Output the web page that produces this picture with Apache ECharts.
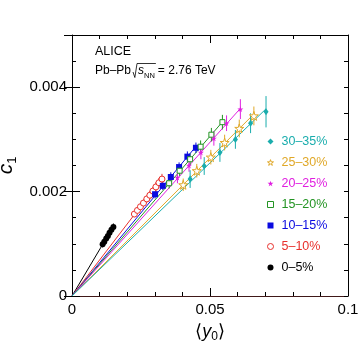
<!DOCTYPE html>
<html>
<head>
<meta charset="utf-8">
<script src="https://cdn.jsdelivr.net/npm/echarts@6/dist/echarts.min.js"></script>
<style>
html, body { margin: 0; padding: 0; background: #fff; }
#chart { width: 359px; height: 349px; }
</style>
</head>
<body>
<div id="chart"></div>
<script>
// centrality classes, listed 0-5% first
const centralities = ['0–5%', '5–10%', '10–15%', '15–20%', '20–25%', '25–30%', '30–35%'];

// <y0> values per class
const y0_0_5 = [0.0111, 0.0117, 0.0124, 0.0130, 0.0136, 0.0143, 0.0150];
const y0_5_10 = [0.0226, 0.0237, 0.0248, 0.0259, 0.0271, 0.0282, 0.0293, 0.0304, 0.0315, 0.0326];
const y0_10_15 = [0.0301, 0.0329, 0.0358, 0.0388, 0.0418, 0.0449];
const y0_15_20 = [0.0352, 0.0390, 0.0428, 0.0466, 0.0505, 0.0545];
const y0_20_25 = [0.0382, 0.0424, 0.0467, 0.0514, 0.0560, 0.0610];
const y0_25_30 = [0.0403, 0.0452, 0.0503, 0.0553, 0.0606, 0.0659];
const y0_30_35 = [0.0428, 0.0479, 0.0536, 0.0592, 0.0647, 0.0703];

// c1 values per class
const c1_0_5 = [0.00099, 0.00104, 0.00110, 0.00115, 0.00121, 0.00127, 0.00132];
const c1_5_10 = [0.00157, 0.00164, 0.00171, 0.00178, 0.00186, 0.00193, 0.00201, 0.00209, 0.00217, 0.00224];
const c1_10_15 = [0.00195, 0.00211, 0.00228, 0.00247, 0.00267, 0.00284];
const c1_15_20 = [0.00216, 0.00240, 0.00262, 0.00286, 0.00309, 0.00333];
const c1_20_25 = [0.00227, 0.00250, 0.00275, 0.00302, 0.00331, 0.00358];
const c1_25_30 = [0.00213, 0.00240, 0.00266, 0.00294, 0.00321, 0.00345];
const c1_30_35 = [0.00224, 0.00249, 0.00275, 0.00300, 0.00331, 0.00353];

// c1 errors per class
const err_0_5 = [0.00006, 0.00006, 0.00006, 0.00006, 0.00006, 0.00007, 0.00007];
const err_5_10 = [0.00006, 0.00006, 0.00007, 0.00007, 0.00007, 0.00008, 0.00008, 0.00009, 0.00009, 0.0001];
const err_10_15 = [0.00008, 0.00008, 0.00009, 0.00009, 0.0001, 0.0001];
const err_15_20 = [0.0001, 0.0001, 0.00011, 0.00012, 0.00013, 0.00014];
const err_20_25 = [0.00011, 0.00012, 0.00013, 0.00014, 0.00015, 0.00019];
const err_25_30 = [0.00012, 0.00013, 0.00014, 0.00015, 0.00017, 0.00018];
const err_30_35 = [0.00017, 0.00017, 0.00018, 0.00018, 0.00019, 0.0003];

// slopes of the linear fits through the origin
const fitSlopes = [0.0890, 0.0690, 0.0638, 0.0612, 0.0589, 0.0529, 0.0510];

const xTickValues = [0, 0.05, 0.1];
const xTickLabels = ['0', '0.05', '0.1'];
const yTickValues = [0, 0.002, 0.004];
const yTickLabels = ['0', '0.002', '0.004'];

const xs = [y0_0_5, y0_5_10, y0_10_15, y0_15_20, y0_20_25, y0_25_30, y0_30_35];
const ys = [c1_0_5, c1_5_10, c1_10_15, c1_15_20, c1_20_25, c1_25_30, c1_30_35];
const errs = [err_0_5, err_5_10, err_10_15, err_15_20, err_20_25, err_25_30, err_30_35];

const colors = ['#000000', '#e8302c', '#0a0ae0', '#239423', '#e020e0', '#e0a828', '#1aadad'];
const STAR = 'path://M50,0 L61,35 L98,35 L68,57 L79,91 L50,70 L21,91 L32,57 L2,35 L39,35 Z';
const markers = [
  { symbol: 'circle', size: 6, fill: true },
  { symbol: 'circle', size: 6, fill: false },
  { symbol: 'rect', size: 6, fill: true },
  { symbol: 'rect', size: 5, fill: false },
  { symbol: STAR, size: 6, fill: true },
  { symbol: STAR, size: 9, fill: false },
  { symbol: 'diamond', size: [5, 7], fill: true },
];

const pickLabel = (v, vals, labels) => {
  for (let i = 0; i < vals.length; i++) {
    if (Math.abs(v - vals[i]) < 1e-9) return labels[i];
  }
  return '';
};

const series = [];
centralities.forEach((name, i) => {
  const xmax = Math.max(...xs[i]);
  series.push({
    name: 'fit' + i,
    type: 'line',
    data: [[0, 0], [xmax, fitSlopes[i] * xmax]],
    symbol: 'none',
    silent: true,
    lineStyle: { color: colors[i], width: 1 },
    z: 2
  });
  series.push({
    name: 'err' + i,
    type: 'custom',
    silent: true,
    data: xs[i].map((x, k) => [x, ys[i][k] - errs[i][k], ys[i][k] + errs[i][k]]),
    renderItem: (params, api) => {
      const p1 = api.coord([api.value(0), api.value(1)]);
      const p2 = api.coord([api.value(0), api.value(2)]);
      return {
        type: 'line',
        shape: { x1: p1[0], y1: p1[1], x2: p2[0], y2: p2[1] },
        style: { stroke: colors[i], lineWidth: 1 }
      };
    },
    z: 3
  });
  const m = markers[i];
  series.push({
    name: name,
    type: 'scatter',
    data: xs[i].map((x, k) => [x, ys[i][k]]),
    symbol: m.symbol,
    symbolSize: m.size,
    itemStyle: m.fill
      ? { color: colors[i], opacity: 1 }
      : { color: '#fff', borderColor: colors[i], borderWidth: 1, opacity: 1 },
    z: 4
  });
});

// place the pieces of the energy label one after another
const measure = document.createElement('canvas').getContext('2d');
const textW = (txt, font) => { measure.font = font; return measure.measureText(txt).width; };
const labelFont = '12px "Liberation Sans"';
const rootX = 95 + textW('Pb–Pb', labelFont) + 2;
const sX = rootX + 5;
const nnX = sX + textW('s', 'italic ' + labelFont);
const nnW = textW('NN', '7.5px "Liberation Sans"');
const eqX = nnX + nnW + 3;

const tickStyle = { color: '#000', width: 1 };
const axisFont = { fontFamily: 'Liberation Sans', fontSize: 15, color: '#000' };

const chart = echarts.init(document.getElementById('chart'), null, { renderer: 'canvas' });
chart.setOption({
  animation: false,
  backgroundColor: '#fff',
  grid: { left: 72, right: 11, top: 35, bottom: 53, containLabel: false, outerBoundsMode: 'none' },
  legend: {
    orient: 'vertical',
    left: 262,
    top: 130,
    itemWidth: 6,
    itemHeight: 6,
    itemGap: 8,
    textStyle: { fontFamily: 'Liberation Sans', fontSize: 12.5, padding: [0, 0, 0, 3] },
    data: centralities.slice().reverse().map((name) => {
      const i = centralities.indexOf(name);
      return {
        name: name,
        itemStyle: markers[i].fill
          ? { color: colors[i], borderWidth: 0 }
          : { color: '#fff', borderColor: colors[i], borderWidth: 1 },
        textStyle: { color: colors[i] }
      };
    })
  },
  xAxis: [
    {
      type: 'value', min: 0, max: 0.1, interval: 0.05, position: 'bottom',
      axisLine: { show: true, onZero: false, lineStyle: { color: '#401818', width: 1 } },
      axisTick: { inside: true, length: 8, lineStyle: tickStyle },
      minorTick: { show: true, splitNumber: 5, length: 4, lineStyle: tickStyle },
      axisLabel: { ...axisFont, margin: 6, formatter: (v) => pickLabel(v, xTickValues, xTickLabels) },
      splitLine: { show: false },
      name: '{a|⟨}{y|y}{s|0}{a|⟩}',
      nameLocation: 'middle',
      nameGap: 25,
      nameTextStyle: {
        rich: {
          a: { fontFamily: 'Liberation Sans', fontSize: 18, color: '#000' },
          y: { fontFamily: 'Liberation Sans', fontStyle: 'italic', fontSize: 18, color: '#000' },
          s: { fontFamily: 'Liberation Sans', fontSize: 12, color: '#000', padding: [10, 0, 0, 0] }
        }
      }
    },
    {
      type: 'value', min: 0, max: 0.1, interval: 0.05, position: 'top',
      axisLine: { show: true, onZero: false, lineStyle: { color: '#000', width: 1 } },
      axisTick: { inside: true, length: 8, lineStyle: tickStyle },
      minorTick: { show: true, splitNumber: 5, length: 4, lineStyle: tickStyle },
      axisLabel: { show: false },
      splitLine: { show: false }
    }
  ],
  yAxis: [
    {
      type: 'value', min: 0, max: 0.005, interval: 0.0005, position: 'left',
      axisLine: { show: true, onZero: false, lineStyle: { color: '#000', width: 1 } },
      axisTick: { inside: true, length: 4, lineStyle: tickStyle },
      axisLabel: { ...axisFont, margin: 5, formatter: (v) => pickLabel(v, yTickValues, yTickLabels) },
      splitLine: { show: false },
      name: '{c|c}{s|1}',
      nameLocation: 'middle',
      nameRotate: 90,
      nameGap: 34,
      nameTextStyle: {
        rich: {
          c: { fontFamily: 'Liberation Sans', fontStyle: 'italic', fontSize: 21, color: '#000' },
          s: { fontFamily: 'Liberation Sans', fontSize: 13, color: '#000', padding: [12, 0, 0, 0] }
        }
      }
    },
    {
      type: 'value', min: 0, max: 0.005, interval: 0.002, position: 'left',
      axisLine: { show: false },
      axisTick: { inside: true, length: 8, lineStyle: tickStyle },
      axisLabel: { show: false },
      splitLine: { show: false }
    },
    {
      type: 'value', min: 0, max: 0.005, interval: 0.0005, position: 'right',
      axisLine: { show: true, onZero: false, lineStyle: { color: '#000', width: 1 } },
      axisTick: { inside: true, length: 4, lineStyle: tickStyle },
      axisLabel: { show: false },
      splitLine: { show: false }
    },
    {
      type: 'value', min: 0, max: 0.005, interval: 0.002, position: 'right',
      axisLine: { show: false },
      axisTick: { inside: true, length: 8, lineStyle: tickStyle },
      axisLabel: { show: false },
      splitLine: { show: false }
    }
  ],
  graphic: [
    { type: 'text', left: 95, top: 45, style: { text: 'ALICE', font: '12.5px "Liberation Sans"', fill: '#000' } },
    { type: 'text', left: 95, top: 65, style: { text: 'Pb–Pb', font: labelFont, fill: '#000' } },
    {
      type: 'polyline',
      shape: { points: [[rootX, 72], [rootX + 1.8, 77.5], [rootX + 4, 63.5], [nnX + nnW + 1, 63.5]] },
      style: { stroke: '#000', lineWidth: 0.8, fill: null }
    },
    { type: 'text', left: sX, top: 65, style: { text: 's', font: 'italic ' + labelFont, fill: '#000' } },
    { type: 'text', left: nnX, top: 72, style: { text: 'NN', font: '7.5px "Liberation Sans"', fill: '#000' } },
    { type: 'text', left: eqX, top: 65, style: { text: '= 2.76 TeV', font: labelFont, fill: '#000' } }
  ],
  series: series
});
</script>
</body>
</html>
